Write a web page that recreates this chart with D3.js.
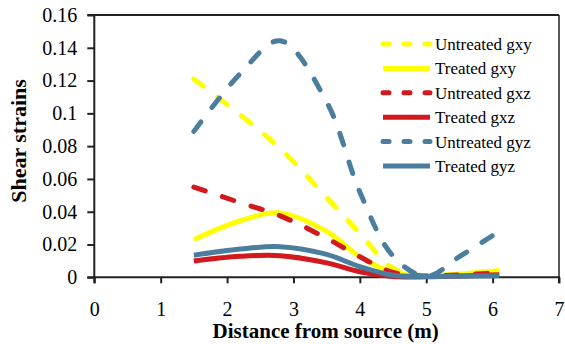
<!DOCTYPE html>
<html>
<head>
<meta charset="utf-8">
<script src="https://cdn.jsdelivr.net/npm/d3@7"></script>
<style>
  html, body { margin: 0; padding: 0; background: #fff; }
  svg { display: block; }
  text { font-family: "Liberation Serif", "Times New Roman", serif; fill: #000; }
</style>
</head>
<body>
<svg id="chart" width="565" height="344"></svg>
<script>
// ---- data ----
const distances = [1.5, 2.2, 2.8, 3.5, 4.0, 4.5, 5.0, 5.5, 6.1];
const untreatedGxy = [0.121, 0.099, 0.0786, 0.0487, 0.0268, 0.0055, 0.0008, 0.002, 0.0042];
const treatedGxy   = [0.023, 0.0345, 0.0393, 0.028, 0.0126, 0.003, 0.001, 0.002, 0.0042];
const untreatedGxz = [0.055, 0.0455, 0.0375, 0.0238, 0.0125, 0.003, 0.0008, 0.0015, 0.0028];
const treatedGxz   = [0.0100, 0.0128, 0.0132, 0.0088, 0.0034, 0.0005, 0.0003, 0.0008, 0.0015];
const untreatedGyz = [0.089, 0.1243, 0.1443, 0.107, 0.052, 0.013, 0.0005, 0.0126, 0.028];
const treatedGyz   = [0.0135, 0.0172, 0.0187, 0.014, 0.0065, 0.0012, 0.0005, 0.0007, 0.001];
const seriesNames = ["Untreated gxy", "Treated gxy", "Untreated gxz", "Treated gxz", "Untreated gyz", "Treated gyz"];
const xTicks = [0, 1, 2, 3, 4, 5, 6, 7];
const yTicks = [0, 0.02, 0.04, 0.06, 0.08, 0.1, 0.12, 0.14, 0.16];

const seriesValues = [untreatedGxy, treatedGxy, untreatedGxz, treatedGxz, untreatedGyz, treatedGyz];
const colors = ["#ffff00", "#ffff00", "#d2191e", "#d2191e", "#4b7e9e", "#4b7e9e"];
const dashed = [true, false, true, false, true, false];

const svg = d3.select("#chart");
const pLeft = 94.3, pRight = 559, pTop = 15, pBottom = 277.3;

const x = d3.scaleLinear().domain([0, 7]).range([pLeft, pRight]);
const y = d3.scaleLinear().domain([0, 0.16]).range([pBottom, pTop]);

// frame top & right
svg.append("line").attr("x1", pLeft).attr("x2", pRight).attr("y1", pTop).attr("y2", pTop)
  .attr("stroke", "#222").attr("stroke-width", 2);
svg.append("line").attr("x1", pRight).attr("x2", pRight).attr("y1", pTop).attr("y2", pBottom)
  .attr("stroke", "#222").attr("stroke-width", 1.5);

// axes
const fmt = d => String(+d.toFixed(2));
const yAxis = svg.append("g").attr("transform", `translate(${pLeft},0)`)
  .call(d3.axisLeft(y).tickValues(yTicks).tickFormat(fmt).tickSize(7).tickPadding(10));
const xAxis = svg.append("g").attr("transform", `translate(0,${pBottom})`)
  .call(d3.axisBottom(x).tickValues(xTicks).tickFormat(d3.format("d")).tickSize(6).tickPadding(19));
[yAxis, xAxis].forEach(g => {
  g.select(".domain").attr("stroke", "#222").attr("stroke-width", 2);
  g.selectAll(".tick line").attr("stroke", "#222").attr("stroke-width", 2);
  g.selectAll("text").attr("font-family", "Liberation Serif").attr("font-size", 20).attr("fill", "#000");
});
yAxis.select(".domain").attr("d", `M-7,${pTop}H0V${pBottom}H-7`);
xAxis.select(".domain").attr("d", `M${pLeft},6V0H${pRight}V6`);

// lines
const line = d3.line()
  .x(d => x(d[0])).y(d => y(d[1]))
  .curve(d3.curveCatmullRom.alpha(0.5));

seriesValues.forEach((vals, i) => {
  const pts = distances.map((d, j) => [d, vals[j]]);
  svg.append("path")
    .attr("d", line(pts))
    .attr("fill", "none")
    .attr("stroke", colors[i])
    .attr("stroke-width", 5)
    .attr("stroke-linecap", dashed[i] ? "round" : "butt")
    .attr("stroke-dasharray", dashed[i] ? "12,18" : null);
});

// legend
const lg = svg.append("g");
seriesNames.forEach((name, i) => {
  const cy = 44 + i * 24.4;
  lg.append("line").attr("x1", 383).attr("x2", 430).attr("y1", cy).attr("y2", cy)
    .attr("stroke", colors[i]).attr("stroke-width", 5)
    .attr("stroke-linecap", dashed[i] ? "round" : "butt")
    .attr("stroke-dasharray", dashed[i] ? "6,15" : null);
  lg.append("text").attr("x", 435).attr("y", cy).attr("dy", "0.35em")
    .attr("font-size", 17).text(name);
});

// axis titles
svg.append("text").attr("x", (pLeft + pRight) / 2 - 1).attr("y", 338)
  .attr("text-anchor", "middle").attr("font-weight", "bold").attr("font-size", 21)
  .text("Distance from source (m)");
svg.append("text").attr("transform", `translate(26,141) rotate(-90)`)
  .attr("text-anchor", "middle").attr("font-weight", "bold").attr("font-size", 22)
  .text("Shear strains");
</script>
</body>
</html>
